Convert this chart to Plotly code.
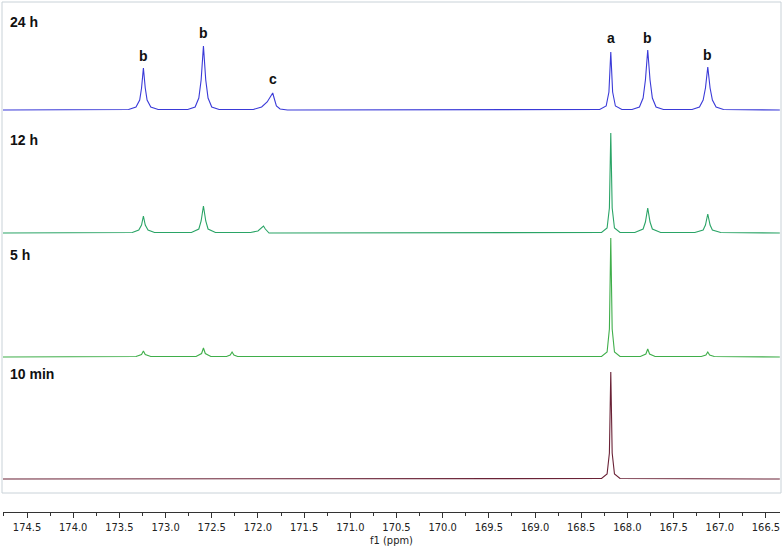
import plotly.graph_objects as go

# ---- data (ppm, intensity above each baseline) ----
ppm_24h = [174.76, 173.40, 173.32, 173.28, 173.26, 173.24, 173.22, 173.20, 173.16, 173.08,
           172.76, 172.68, 172.64, 172.615, 172.59, 172.565, 172.54, 172.50, 172.42,
           172.05, 171.96, 171.90, 171.86, 171.84, 171.825, 171.80, 171.76, 171.68,
           168.30, 168.23, 168.20, 168.18, 168.16, 168.13, 168.06,
           167.95, 167.87, 167.83, 167.805, 167.78, 167.755, 167.73, 167.69, 167.61,
           167.30, 167.22, 167.18, 167.155, 167.13, 167.105, 167.08, 167.04, 166.96, 166.35]
int_24h = [0, 0.5, 3, 10, 22, 42, 22, 10, 3, 0.5,
           0.5, 3, 12, 30, 64, 30, 12, 3, 0.5,
           0.5, 3, 8, 14, 17, 12, 4, 1, 0,
           0.5, 4, 18, 58, 18, 4, 0.5,
           0.5, 3, 12, 30, 60, 30, 12, 3, 0.5,
           0.5, 3, 10, 22, 43, 22, 10, 3, 0.5, 0]

ppm_12h = [174.76, 173.36, 173.29, 173.26, 173.24, 173.22, 173.19, 173.12,
           172.72, 172.64, 172.615, 172.59, 172.565, 172.54, 172.46,
           172.08, 172.00, 171.96, 171.94, 171.92, 171.88,
           168.28, 168.22, 168.195, 168.18, 168.165, 168.14, 168.08,
           167.92, 167.83, 167.805, 167.78, 167.755, 167.73, 167.64,
           167.27, 167.18, 167.155, 167.13, 167.105, 167.08, 166.99, 166.35]
int_12h = [0, 0.5, 3, 8, 17, 8, 3, 0.5,
           0.5, 4, 12, 27, 12, 4, 0.5,
           0.5, 2, 5, 7, 4, 0,
           0.5, 5, 25, 100, 25, 5, 0.5,
           0.5, 4, 11, 25, 11, 4, 0.5,
           0.5, 3, 8, 19, 8, 3, 0.5, 0]

ppm_5h = [174.76, 173.32, 173.26, 173.24, 173.22, 173.16,
          172.67, 172.61, 172.59, 172.57, 172.51,
          172.34, 172.30, 172.28, 172.26, 172.22,
          168.28, 168.22, 168.195, 168.18, 168.165, 168.14, 168.08,
          167.86, 167.80, 167.78, 167.76, 167.70,
          167.20, 167.15, 167.13, 167.11, 167.06, 166.35]
int_5h = [0, 0.5, 2.5, 6, 2.5, 0.5,
          0.5, 3.5, 9, 3.5, 0.5,
          0.5, 2, 5, 2, 0.5,
          0.5, 5, 28, 119, 28, 5, 0.5,
          0.5, 3, 8, 3, 0.5,
          0.5, 2, 5, 2, 0.5, 0]

ppm_10min = [174.76, 168.28, 168.22, 168.195, 168.18, 168.165, 168.14, 168.08, 166.35]
int_10min = [0, 0.5, 5, 26, 107, 26, 5, 0.5, 0]

spectra_labels = ["24 h", "12 h", "5 h", "10 min"]
peak_ppm = [173.24, 172.59, 171.84, 168.18, 167.78, 167.13]
peak_letters = ["b", "b", "c", "a", "b", "b"]
tick_vals = [174.5, 174.0, 173.5, 173.0, 172.5, 172.0, 171.5, 171.0, 170.5,
             170.0, 169.5, 169.0, 168.5, 168.0, 167.5, 167.0, 166.5]

# ---- layout / style constants ----
W, H = 783, 548
offsets = [402, 279, 155, 33]          # baseline positions (plot units)
colors = ["#3a3ad8", "#2aa466", "#3fae4a", "#6a2236"]
label_y = [490, 372, 257, 138]
peak_label_y = [456, 479, 433, 474, 474, 457]

fig = go.Figure()
series = [(ppm_24h, int_24h), (ppm_12h, int_12h), (ppm_5h, int_5h), (ppm_10min, int_10min)]
for (xs, ys), off, col, name in zip(series, offsets, colors, spectra_labels):
    fig.add_trace(go.Scatter(x=xs, y=[v + off for v in ys], mode="lines",
                             line=dict(color=col, width=1.1), name=name,
                             showlegend=False, hoverinfo="skip"))

for name, yv in zip(spectra_labels, label_y):
    fig.add_annotation(x=(8 - 3) / 777, xref="paper", y=yv, yref="y", text="<b>%s</b>" % name,
                       showarrow=False, xanchor="left", yanchor="middle",
                       font=dict(family="Liberation Sans, Arial", size=14, color="#111111"))

for p, t, yv in zip(peak_ppm, peak_letters, peak_label_y):
    fig.add_annotation(x=p, y=yv, text="<b>%s</b>" % t, showarrow=False,
                       xanchor="center", yanchor="middle",
                       font=dict(family="Liberation Sans, Arial", size=14, color="#111111"))

# frame around spectra
fig.add_shape(type="rect", xref="paper", yref="y", x0=-1 / 777, x1=778 / 777, y0=19, y1=510,
              line=dict(color="#c9d2d8", width=1), fillcolor="rgba(0,0,0,0)", layer="below")

tick_font = dict(family="DejaVu Sans Condensed, DejaVu Sans, sans-serif", size=11, color="#222222")
fig.update_layout(
    width=W, height=H,
    margin=dict(l=3, r=3, t=0, b=36),
    paper_bgcolor="white", plot_bgcolor="white",
    xaxis=dict(range=[174.76, 166.348], tickvals=tick_vals,
               ticktext=["%.1f" % v for v in tick_vals],
               ticks="outside", ticklen=5, tickcolor="#333333", tickwidth=1,
               minor=dict(dtick=0.25, ticks="outside", ticklen=3, tickcolor="#333333"),
               showline=True, linecolor="#333333", linewidth=1,
               showgrid=False, zeroline=False, tickfont=tick_font,
               title=dict(text="f1 (ppm)", font=tick_font, standoff=0)),
    yaxis=dict(range=[0, 512], visible=False, showgrid=False, zeroline=False),
)

fig.write_html("out.html")
